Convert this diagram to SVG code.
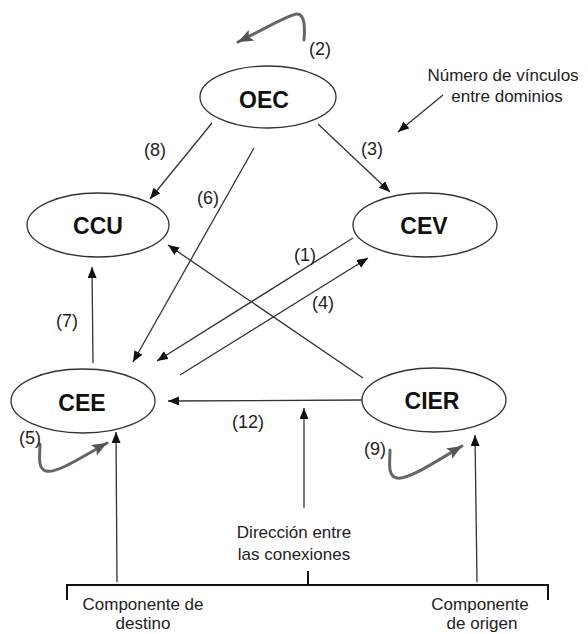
<svg xmlns="http://www.w3.org/2000/svg" width="588" height="634" viewBox="0 0 588 634">
  <style>
    .node ellipse { fill: #fff; stroke: #333; stroke-width: 1.3; }
    .node text { font-family: "Liberation Sans", Arial, sans-serif; font-weight: bold; font-size: 23px; fill: #111; text-anchor: middle; }
    .edge { fill: none; stroke: #333; stroke-width: 1.3; }
    .loop { fill: none; stroke: #666; stroke-width: 3; stroke-linecap: round; stroke-linejoin: round; }
    .lbl { font-family: "Liberation Sans", Arial, sans-serif; font-size: 18px; fill: #222; text-anchor: middle; }
    .note { font-family: "Liberation Sans", Arial, sans-serif; font-size: 17px; fill: #222; text-anchor: middle; }
    .bracket { fill: none; stroke: #111; stroke-width: 2; }
  </style>
  <defs>
    <marker id="arr" markerUnits="userSpaceOnUse" markerWidth="12" markerHeight="10" refX="11" refY="4.5" orient="auto">
      <path d="M0,0 L11,4.5 L0,9 z" fill="#111"/>
    </marker>
    <marker id="arrLoop" markerUnits="userSpaceOnUse" markerWidth="16" markerHeight="14" refX="15" refY="6" orient="auto">
      <path d="M0,0 L15,6 L0,12 L3,6 z" fill="#555"/>
    </marker>
    <filter id="soft" x="-20%" y="-20%" width="140%" height="140%">
      <feGaussianBlur stdDeviation="0.7"/>
    </filter>
  </defs>

  <!-- connectors between domains -->
  <g id="connectors">
    <line class="edge" x1="212" y1="123" x2="150" y2="199" marker-end="url(#arr)"/>
    <line class="edge" x1="318" y1="124" x2="390" y2="192" marker-end="url(#arr)"/>
    <line class="edge" x1="254" y1="148" x2="133" y2="362" marker-end="url(#arr)"/>
    <line class="edge" x1="353" y1="238" x2="157" y2="361" marker-end="url(#arr)"/>
    <line class="edge" x1="180" y1="375" x2="368" y2="258" marker-end="url(#arr)"/>
    <line class="edge" x1="363" y1="378" x2="168" y2="245" marker-end="url(#arr)"/>
    <line class="edge" x1="93" y1="363" x2="92" y2="267" marker-end="url(#arr)"/>
    <line class="edge" x1="362" y1="400" x2="168" y2="401" marker-end="url(#arr)"/>

    <!-- self loops -->
    <g filter="url(#soft)">
      <path class="loop" d="M304,40 C305,28 305,14 297,14 C290,14 270,26 238,42" marker-end="url(#arrLoop)"/>
      <path class="loop" d="M40,444 C40,456 37,468 46,471 C56,474 80,458 107,443" marker-end="url(#arrLoop)"/>
      <path class="loop" d="M390,450 C390,462 387,476 397,478 C408,480 435,462 462,446" marker-end="url(#arrLoop)"/>
    </g>

    <!-- legend pointers -->
    <line class="edge" x1="443" y1="95" x2="398" y2="132" marker-end="url(#arr)"/>
    <line class="edge" x1="304" y1="508" x2="304" y2="408" marker-end="url(#arr)"/>
    <line class="edge" x1="117" y1="582" x2="116" y2="432" marker-end="url(#arr)"/>
    <line class="edge" x1="477" y1="582" x2="475" y2="435" marker-end="url(#arr)"/>
  </g>

  <!-- bracket -->
  <path class="bracket" d="M67,600 L67,585 L548,585 L548,600 M308,585 L308,571"/>

  <!-- nodes -->
  <g id="OEC" class="node">
    <ellipse cx="268" cy="97" rx="68" ry="31"/>
    <text x="264" y="108">OEC</text>
  </g>
  <g id="CCU" class="node">
    <ellipse cx="98" cy="225" rx="71" ry="32"/>
    <text x="98" y="234">CCU</text>
  </g>
  <g id="CEV" class="node">
    <ellipse cx="425" cy="225" rx="72" ry="32"/>
    <text x="424" y="234">CEV</text>
  </g>
  <g id="CEE" class="node">
    <ellipse cx="83" cy="401" rx="72" ry="32"/>
    <text x="82" y="411">CEE</text>
  </g>
  <g id="CIER" class="node">
    <ellipse cx="434" cy="400" rx="72" ry="32"/>
    <text x="432" y="409">CIER</text>
  </g>

  <!-- link counts -->
  <g id="labels">
    <text class="lbl" x="320" y="55">(2)</text>
    <text class="lbl" x="155" y="156">(8)</text>
    <text class="lbl" x="372" y="155">(3)</text>
    <text class="lbl" x="208" y="204">(6)</text>
    <text class="lbl" x="305" y="261">(1)</text>
    <text class="lbl" x="323" y="309">(4)</text>
    <text class="lbl" x="67" y="327">(7)</text>
    <text class="lbl" x="248" y="428">(12)</text>
    <text class="lbl" x="30" y="444">(5)</text>
    <text class="lbl" x="375" y="455">(9)</text>
  </g>

  <!-- legend text -->
  <g id="legend">
    <text class="note" x="503" y="81">Número de vínculos</text>
    <text class="note" x="507" y="102">entre dominios</text>
    <text class="note" x="294" y="538">Dirección entre</text>
    <text class="note" x="294" y="560">las conexiones</text>
    <text class="note" x="143" y="610">Componente de</text>
    <text class="note" x="143" y="629">destino</text>
    <text class="note" x="480" y="610">Componente</text>
    <text class="note" x="482" y="629">de origen</text>
  </g>
</svg>
